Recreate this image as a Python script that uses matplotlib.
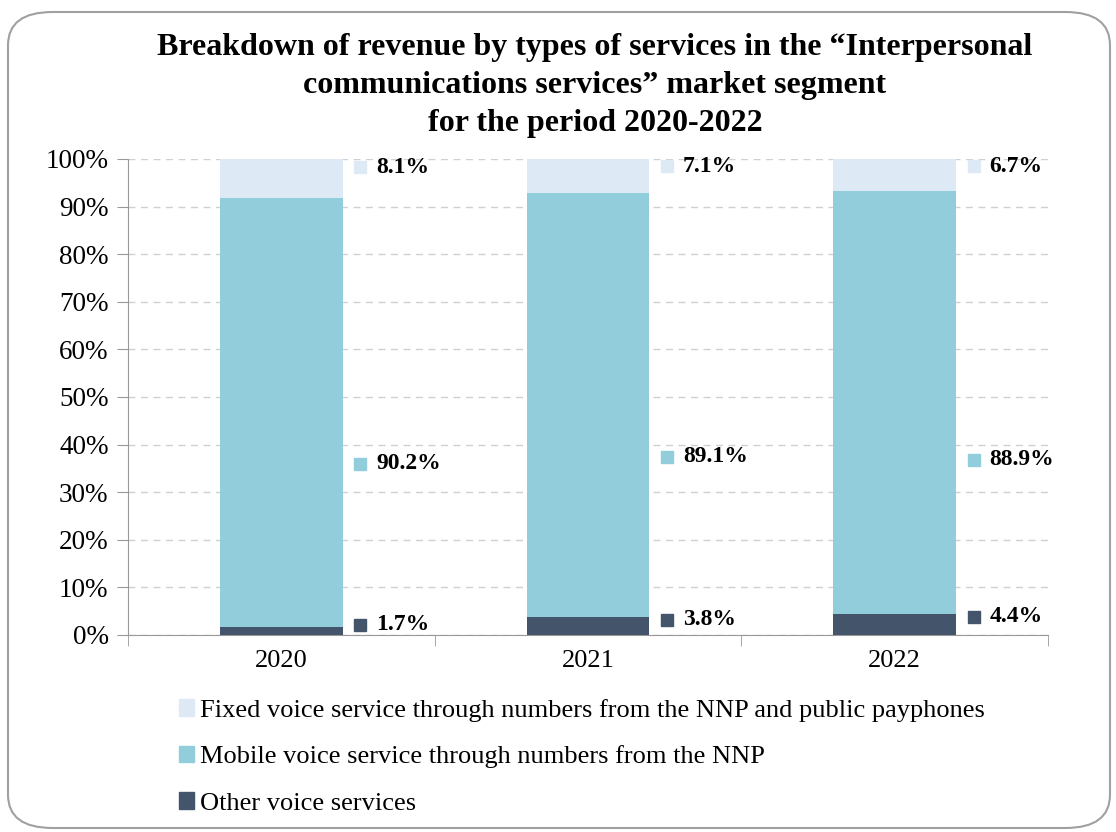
import numpy as np
import matplotlib.pyplot as plt
from matplotlib.patches import FancyBboxPatch, Patch

plt.rcParams['font.family'] = ['Liberation Serif', 'DejaVu Serif']

years = ["2020", "2021", "2022"]
other = [1.7, 3.8, 4.4]
mobile = [90.2, 89.1, 88.9]
fixed = [8.1, 7.1, 6.7]

series_names = [
    "Fixed voice service through numbers from the NNP and public payphones",
    "Mobile voice service through numbers from the NNP",
    "Other voice services",
]
c_fixed = "#dde9f5"
c_mobile = "#92cddc"
c_other = "#44546a"

# where each value label sits (percent height on the axis)
label_y_other = [2.2, 3.2, 3.8]
label_y_mobile = [36.0, 37.4, 36.8]
label_y_fixed = [98.3, 98.5, 98.5]

fig = plt.figure(figsize=(11.16, 8.32), dpi=100)

# rounded frame around the whole chart
frame = FancyBboxPatch((8 / 1116, 4 / 832), 1102 / 1116, 816 / 832,
                       boxstyle="round,pad=0,rounding_size=0.04",
                       transform=fig.transFigure, facecolor="white",
                       edgecolor="#a0a0a0", linewidth=1.5, zorder=-10)
fig.patches.append(frame)

ax = fig.add_axes([128 / 1116, 1 - 635 / 832, 920 / 1116, 476 / 832])
ax.set_facecolor("none")

x = np.arange(len(years))
w = 0.4
bottom2 = np.array(other) + np.array(mobile)
ax.bar(x, other, w, color=c_other, zorder=3)
ax.bar(x, mobile, w, bottom=other, color=c_mobile, zorder=3)
ax.bar(x, fixed, w, bottom=bottom2, color=c_fixed, zorder=3)

for i in range(len(years)):
    for val, ly, col in [(fixed[i], label_y_fixed[i], c_fixed),
                         (mobile[i], label_y_mobile[i], c_mobile),
                         (other[i], label_y_other[i], c_other)]:
        ax.plot(x[i] + 0.258, ly, marker="s", markersize=9, color=col,
                linestyle="none", zorder=4, clip_on=False)
        ax.text(x[i] + 0.31, ly, f"{val:.1f}%", fontsize=17, fontweight="bold",
                va="center", ha="left", zorder=4)

ax.set_xlim(-0.5, 2.5)
ax.set_ylim(0, 100)
ax.set_yticks(np.arange(0, 101, 10))
ax.set_yticklabels([f"{v}%" for v in range(0, 101, 10)], fontsize=19.5)
ax.yaxis.grid(True, linestyle=(0, (5, 4)), color="#d0d0d0", linewidth=1, zorder=0)

ax.set_xticks(x)
ax.set_xticklabels(years, fontsize=19)
ax.set_xticks([-0.5, 0.5, 1.5, 2.5], minor=True)
ax.tick_params(axis="x", which="major", length=0, pad=11)
ax.tick_params(axis="x", which="minor", length=8, color="#999999")
ax.tick_params(axis="y", length=8, color="#999999", pad=6)

for s in ["top", "right"]:
    ax.spines[s].set_visible(False)
for s in ["left", "bottom"]:
    ax.spines[s].set_color("#999999")

fig.text(0.533, 1 - 33 / 832,
         "Breakdown of revenue by types of services in the “Interpersonal\n"
         "communications services” market segment\n"
         "for the period 2020-2022",
         ha="center", va="top", fontsize=23, fontweight="bold",
         linespacing=1.4)

handles = [Patch(color=c) for c in [c_fixed, c_mobile, c_other]]
fig.legend(handles, series_names, loc="upper left",
           bbox_to_anchor=(168 / 1116, 1 - 688 / 832), frameon=False,
           fontsize=19, handlelength=0.6, handleheight=0.6,
           handletextpad=0.2, labelspacing=0.9, borderaxespad=0)

fig.savefig("out.png", dpi=100)
